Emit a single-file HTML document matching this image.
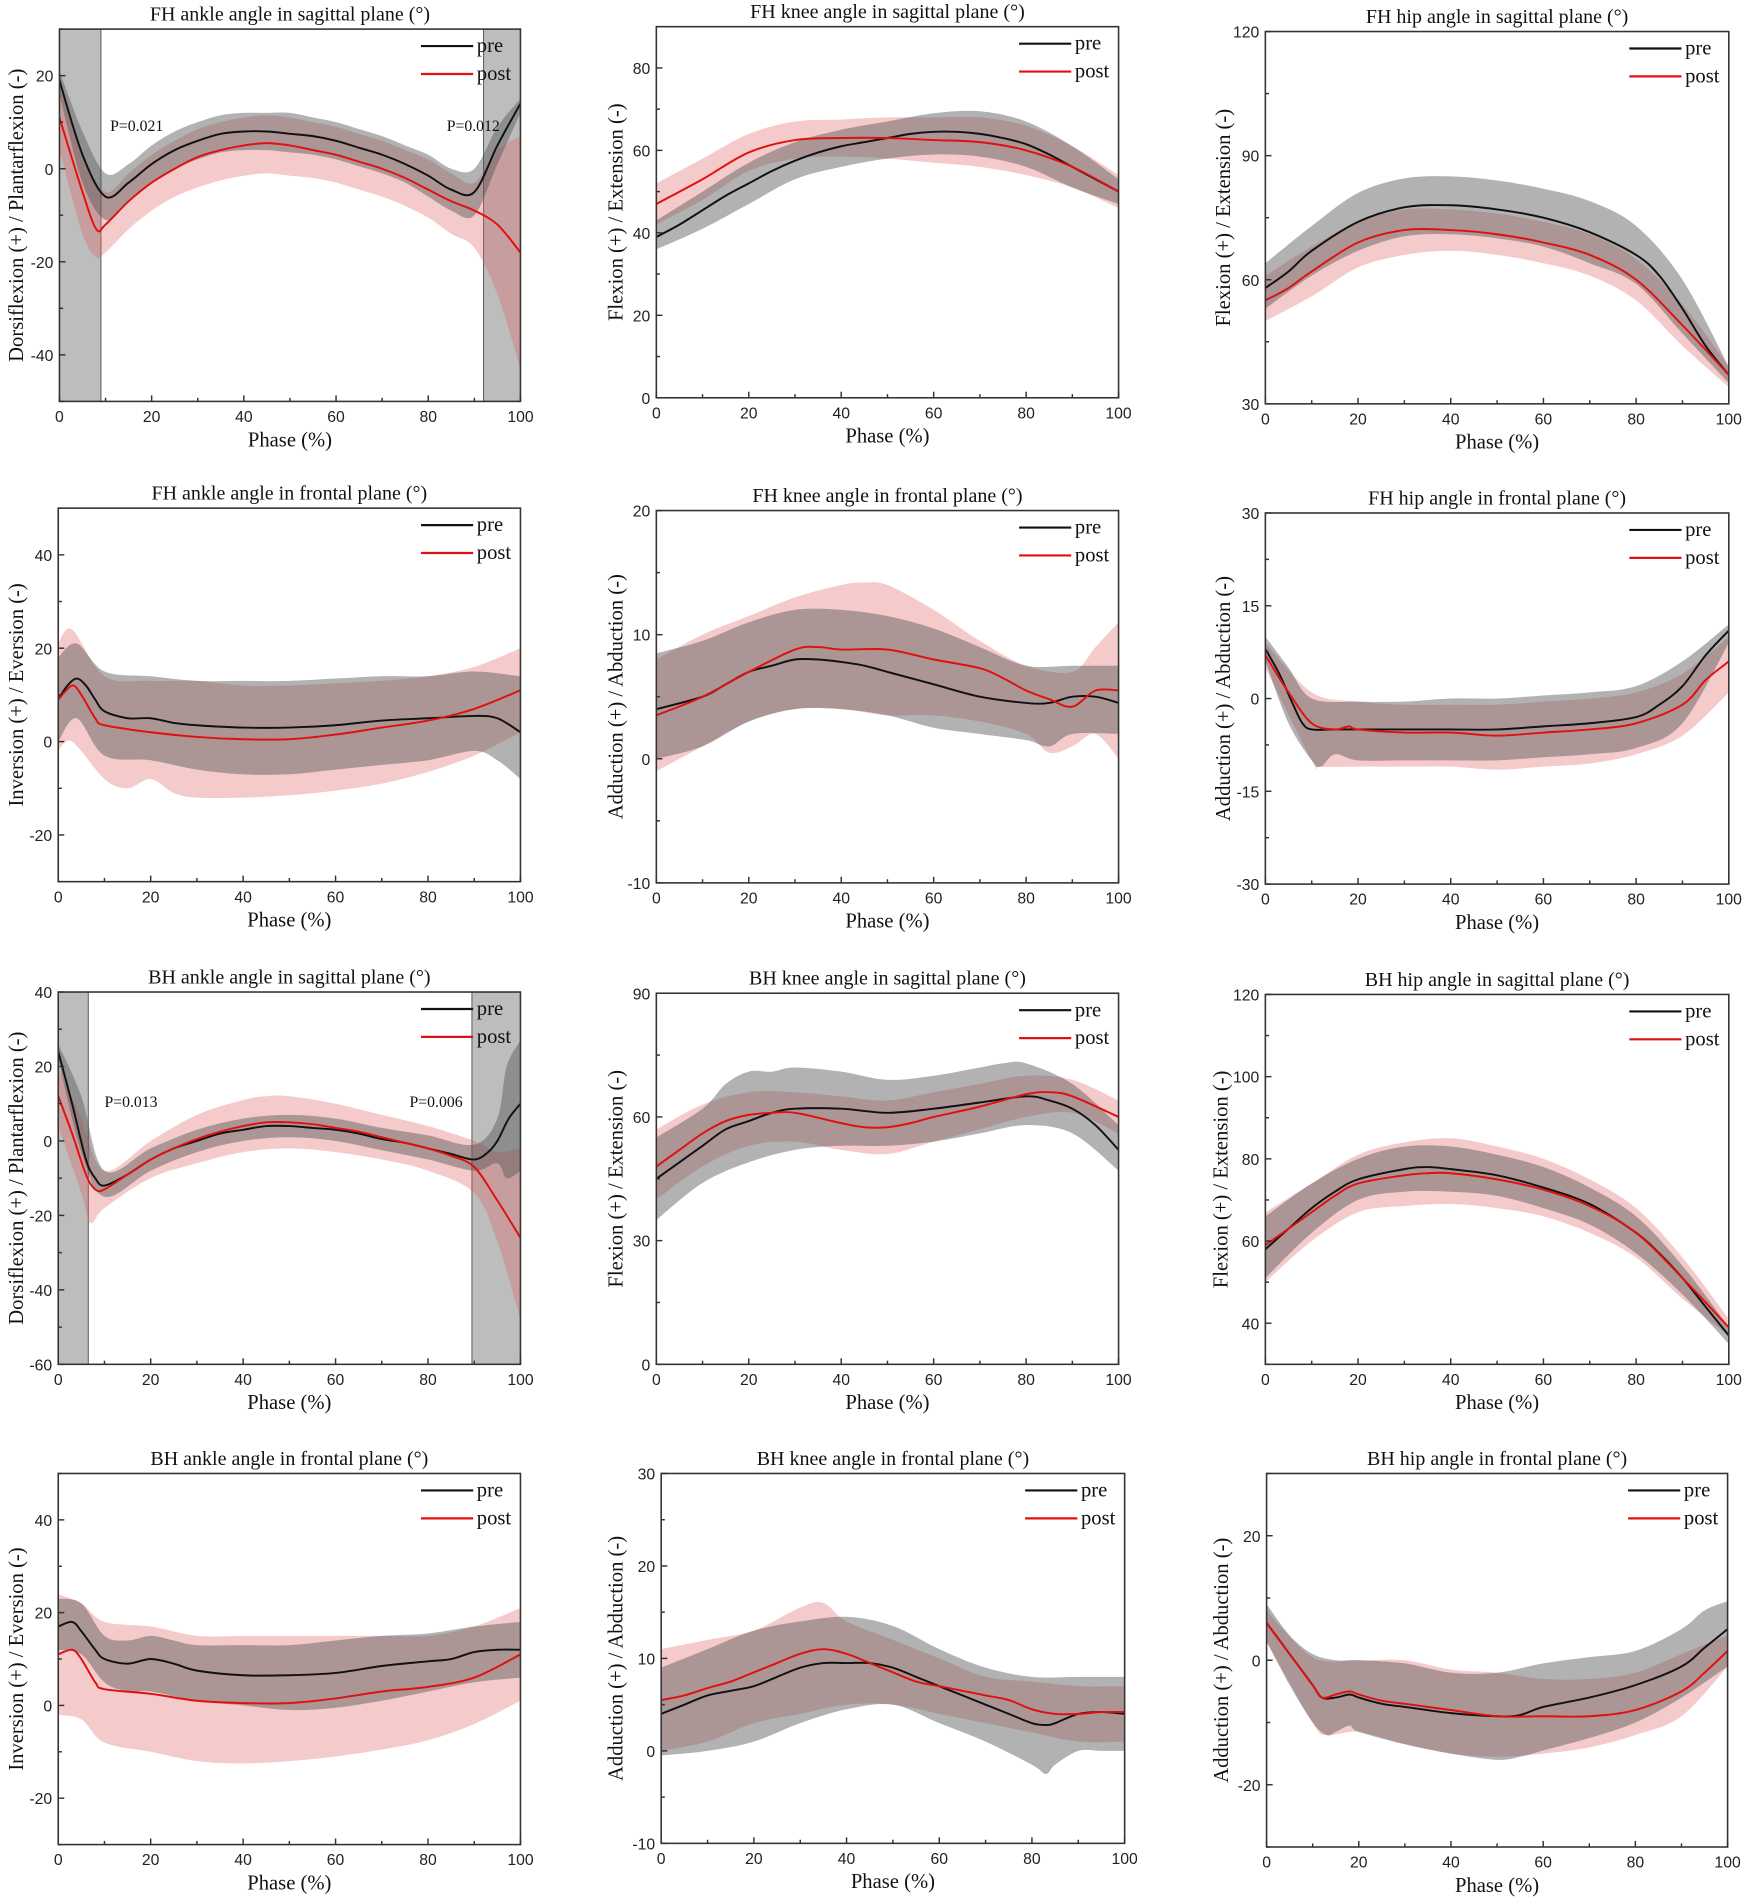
<!DOCTYPE html>
<html><head><meta charset="utf-8">
<style>
html,body{margin:0;padding:0;background:#fff;}
svg{display:block;}
.t{font-family:"Liberation Serif",serif;}
.n{font-family:"Liberation Sans",sans-serif;}
</style></head>
<body>
<svg id="fig" width="1747" height="1904" viewBox="0 0 1440 1570" preserveAspectRatio="none" xmlns="http://www.w3.org/2000/svg"></svg>
<script>
const xTicks=[0,20,40,60,80,100];
// Panel 1 FH ankle sagittal
const p1PreMean=[[0,19],[5,3],[10,-6],[15,-3],[20,1],[25,4],[30,6],[35,7.5],[40,8],[45,8],[50,7.5],[55,7],[60,6],[65,4.5],[70,3],[75,1],[80,-1.5],[85,-4.5],[90,-5],[95,5],[100,14]];
const p1PreHi=[[0,21],[5,8],[10,-1],[15,1],[20,5],[25,8],[30,10],[35,11.5],[40,12],[45,12],[50,12],[55,11],[60,10],[65,8.5],[70,7],[75,5],[80,3],[85,0],[90,0],[95,9],[100,15]];
const p1PreLo=[[0,16],[5,-3],[10,-11],[15,-7],[20,-3],[25,0],[30,2],[35,3.5],[40,4],[45,4],[50,3.5],[55,3],[60,2],[65,0.5],[70,-1],[75,-3],[80,-6],[85,-9],[90,-10],[95,1],[100,12]];
const p1PostMean=[[0,11],[5,-5],[8,-13],[10,-12],[15,-7],[20,-3],[25,0],[30,2.5],[35,4],[40,5],[45,5.5],[50,5],[55,4],[60,3],[65,1.5],[70,0],[75,-2],[80,-4.5],[85,-7],[90,-9],[95,-12],[100,-18]];
const p1PostHi=[[0,18],[5,3],[10,-5],[15,-1],[20,3],[25,6],[30,8.5],[35,10],[40,11],[45,11.5],[50,11],[55,10],[60,9],[65,7.5],[70,6],[75,4],[80,2],[85,-1],[90,-3],[95,4],[100,7]];
const p1PostLo=[[0,4],[5,-14],[8,-19],[10,-18],[15,-13],[20,-9],[25,-6],[30,-4],[35,-2.5],[40,-1.5],[45,-1],[50,-1.5],[55,-2],[60,-3],[65,-4.5],[70,-6],[75,-8],[80,-10.5],[85,-14],[90,-17],[95,-27],[100,-43]];
const p1YTicks=[-40,-20,0,20];
// Panel 2 FH knee sagittal
const p2PreMean=[[0,39],[5,42],[10,45.5],[15,49],[20,52],[25,55],[30,57.5],[35,59.5],[40,61],[45,62],[50,63],[55,64],[60,64.5],[65,64.5],[70,64],[75,63],[80,61.5],[85,59],[90,56],[95,53],[100,50]];
const p2PreHi=[[0,43],[10,50],[20,57],[30,62],[40,65],[50,67],[60,69],[70,69.5],[80,67],[90,61],[100,53]];
const p2PreLo=[[0,36],[10,41],[20,47],[30,53],[40,56],[50,58],[60,59],[70,58.5],[80,56],[90,51],[100,47]];
const p2PostMean=[[0,47],[10,53],[20,59.5],[30,62.5],[40,63],[50,63],[60,62.5],[70,62],[80,60],[90,56],[100,50]];
const p2PostHi=[[0,52],[10,58],[20,64],[30,67],[40,67.5],[50,68],[60,68],[70,68],[80,66],[90,61],[100,54]];
const p2PostLo=[[0,42],[10,48],[20,55],[30,58],[40,58.5],[50,58],[60,57],[70,56],[80,54],[90,51],[100,46]];
const p2YTicks=[0,20,40,60,80];
// Panel 3 FH hip sagittal
const p3PreMean=[[0,58],[5,62],[10,67],[20,74],[30,77.5],[40,78],[50,77],[60,75],[70,71.5],[80,66],[85,61],[90,53],[95,44],[100,37]];
const p3PreHi=[[0,64],[10,73],[20,81],[30,84.5],[40,85],[50,84],[60,82],[70,79],[80,73],[90,60],[100,39]];
const p3PreLo=[[0,53],[10,61],[20,67],[30,70.5],[40,71],[50,70],[60,68],[70,64],[80,59],[90,47],[100,35]];
const p3PostMean=[[0,55],[5,58],[10,62],[20,69],[30,72],[40,72],[50,71],[60,69],[70,66],[80,60],[90,49],[100,37]];
const p3PostHi=[[0,61],[10,68],[20,74],[30,77],[40,77],[50,76],[60,74],[70,71],[80,65],[90,54],[100,39]];
const p3PostLo=[[0,50],[10,56],[20,63],[30,66],[40,67],[50,66],[60,64],[70,61],[80,55],[90,44],[100,34]];
const p3YTicks=[30,60,90,120];
// Panel 4 FH ankle frontal
const p4PreMean=[[0,9],[2,12],[4,13.5],[6,12],[8,9],[10,6.5],[15,5],[20,5],[25,4],[30,3.5],[40,3],[50,3],[60,3.5],[70,4.5],[80,5],[90,5.5],[95,5],[100,2]];
const p4PreHi=[[0,18],[4,21],[10,15],[20,14],[30,13],[40,13],[50,13],[60,13.5],[70,14],[80,14],[90,15],[100,14]];
const p4PreLo=[[0,0],[4,5],[10,-3],[20,-4],[30,-6],[40,-7],[50,-7],[60,-6],[70,-5],[80,-4],[90,-2],[95,-4],[100,-8]];
const p4PostMean=[[0,9],[3,12],[5,10],[8,5],[10,3.5],[20,2],[30,1],[40,0.5],[50,0.5],[60,1.5],[70,3],[80,4.5],[90,7],[100,11]];
const p4PostHi=[[0,21],[3,24],[10,14],[20,13],[30,13],[40,12],[50,12],[60,12.5],[70,13],[80,14],[90,16],[100,20]];
const p4PostLo=[[0,-2],[3,0],[10,-8],[15,-10],[20,-8],[25,-11],[30,-12],[40,-12],[50,-11.5],[60,-10.5],[70,-9],[80,-6.5],[90,-3],[100,2]];
const p4YTicks=[-20,0,20,40];
// Panel 5 FH knee frontal
const p5PreMean=[[0,4],[10,5],[15,6],[20,7],[25,7.5],[30,8],[35,8],[40,7.8],[45,7.5],[50,7],[60,6],[70,5],[80,4.5],[85,4.5],[90,5],[95,5],[100,4.5]];
const p5PreHi=[[0,8.5],[10,9.5],[20,11],[30,12],[40,12],[50,11.5],[60,10.5],[70,9],[80,7.5],[90,7.5],[100,7.5]];
const p5PreLo=[[0,0],[10,1],[20,3],[30,4],[40,4],[50,3.5],[60,2.5],[70,2],[80,1.5],[85,1],[90,2],[100,2]];
const p5PostMean=[[0,3.5],[10,5],[20,7],[30,8.8],[35,9],[40,8.8],[50,8.8],[60,8],[70,7.3],[75,6.5],[80,5.5],[85,4.8],[90,4.2],[95,5.5],[100,5.5]];
const p5PostHi=[[0,8],[10,10],[20,11.5],[30,13],[40,14],[45,14.2],[50,14],[60,12],[70,9.5],[80,7.5],[90,7],[95,9],[100,11]];
const p5PostLo=[[0,-1],[10,1],[20,3],[30,4],[40,4],[50,3.5],[60,3.5],[70,3],[80,2],[85,0.5],[90,1],[95,2],[100,0]];
const p5YTicks=[-10,0,10,20];
// Panel 6 FH hip frontal
const p6PreMean=[[0,8],[3,4],[6,-1],[8,-4],[10,-5],[15,-5],[20,-5],[30,-5],[40,-5],[50,-5],[60,-4.5],[70,-4],[80,-3],[85,-1],[90,2],[95,7],[100,11]];
const p6PreHi=[[0,10],[5,5],[10,0],[20,-0.5],[30,-0.5],[40,0],[50,0],[60,0.5],[70,1],[80,2],[90,6],[100,12]];
const p6PreLo=[[0,6],[5,-4],[10,-10],[12,-11],[15,-9],[20,-10],[30,-10],[40,-10],[50,-10],[60,-9.5],[70,-9],[80,-8],[90,-4],[100,9]];
const p6PostMean=[[0,7],[5,1],[10,-4],[15,-5],[18,-4.5],[20,-5],[30,-5.5],[40,-5.5],[50,-6],[60,-5.5],[70,-5],[80,-4],[90,-1],[95,3],[100,6]];
const p6PostHi=[[0,9],[10,1],[20,-0.5],[30,-1],[40,-1],[50,-1],[60,-0.5],[70,0],[80,1],[90,4],[100,10]];
const p6PostLo=[[0,5],[10,-10],[12,-11],[20,-11],[30,-11],[40,-11],[50,-11.5],[60,-11],[70,-10.5],[80,-9],[90,-6],[100,1]];
const p6YTicks=[-30,-15,0,15,30];
// Panel 7 BH ankle sagittal
const p7PreMean=[[0,24],[3,10],[6,-5],[8,-10],[10,-12],[15,-9],[20,-5],[25,-2],[30,0],[35,2],[40,3],[45,4],[50,4],[55,3.5],[60,3],[65,2],[70,0.5],[75,-0.5],[80,-2],[85,-3.5],[90,-5],[93,-3],[95,0],[97,5],[98,7],[100,10]];
const p7PreHi=[[0,26],[5,12],[10,-8],[20,-2],[30,3],[40,6],[50,7],[60,6],[70,3.5],[80,1.5],[90,-1],[95,6],[97,20],[100,27]];
const p7PreLo=[[0,22],[5,-3],[10,-15],[20,-8],[30,-3],[40,0],[50,1],[60,0],[70,-2.5],[80,-5],[90,-8],[95,-6],[97,-10],[100,-8]];
const p7PostMean=[[0,12],[3,2],[6,-9],[8,-13],[10,-13],[15,-9],[20,-5],[25,-2],[30,0.5],[35,2.5],[40,4],[45,5],[50,5],[55,4.5],[60,3.5],[65,2.5],[70,1],[75,-0.5],[80,-2],[85,-4],[90,-7],[95,-16],[100,-26]];
const p7PostHi=[[0,20],[5,6],[10,-8],[20,0],[30,7],[40,11],[45,12],[50,12],[60,10],[70,7],[80,4],[90,0],[95,-3],[100,-2]];
const p7PostLo=[[0,4],[5,-14],[7,-22],[10,-18],[20,-10],[30,-6],[40,-3],[50,-2],[60,-3],[70,-5],[80,-8],[90,-14],[95,-27],[100,-48]];
const p7YTicks=[-60,-40,-20,0,20,40];
// Panel 8 BH knee sagittal
const p8PreMean=[[0,45],[5,49],[10,53],[15,57],[20,59],[25,61],[30,62],[40,62],[50,61],[60,62],[70,63.5],[80,65],[85,64],[90,62],[95,58],[100,52]];
const p8PreHi=[[0,55],[10,62],[15,68],[20,71],[25,71],[30,72],[40,71],[50,69],[60,70],[70,72],[75,73],[80,73],[90,68],[100,58]];
const p8PreLo=[[0,35],[10,44],[20,49],[30,52],[40,53],[50,53],[60,54],[70,56],[80,58],[90,56],[100,47]];
const p8PostMean=[[0,48],[5,52],[10,56],[15,59],[20,60.5],[25,61],[30,61],[40,58.5],[45,57.5],[50,57.5],[55,58.5],[60,60],[70,62.5],[80,65.5],[85,66],[90,65],[100,60]];
const p8PostHi=[[0,57],[10,63],[20,66],[30,66],[40,65],[50,64],[60,66],[70,68],[80,70],[90,69],[100,64]];
const p8PostLo=[[0,40],[10,48],[20,53],[30,54],[40,52],[50,51],[60,54],[70,57],[80,60],[90,61],[100,56]];
const p8YTicks=[0,30,60,90];
// Panel 9 BH hip sagittal
const p9PreMean=[[0,58],[5,63],[10,68],[15,72],[20,75],[30,77.5],[35,78],[40,77.5],[50,76],[60,73],[70,69],[80,62],[85,57],[90,51],[95,44],[100,37]];
const p9PreHi=[[0,66],[10,74],[20,80],[30,83],[40,83],[50,81],[60,78],[70,73],[80,66],[90,54],[100,39]];
const p9PreLo=[[0,51],[10,62],[20,70],[30,72],[40,72],[50,71],[60,68],[70,64],[80,57],[90,47],[100,35]];
const p9PostMean=[[0,59],[5,63],[10,67],[15,71],[20,74],[30,76],[35,76.5],[40,76.5],[50,75],[60,72.5],[70,68.5],[80,62],[90,51],[100,39]];
const p9PostHi=[[0,67],[10,74],[20,81],[30,84],[40,85],[50,83],[60,80],[70,75],[80,68],[90,56],[100,41]];
const p9PostLo=[[0,50],[10,60],[20,67],[30,68.5],[40,69],[50,68],[60,66],[70,62],[80,56],[90,46],[100,37]];
const p9YTicks=[40,60,80,100,120];
// Panel 10 BH ankle frontal
const p10PreMean=[[0,17],[3,18],[5,16],[8,12],[10,10],[15,9],[20,10],[25,9],[30,7.5],[40,6.5],[50,6.5],[60,7],[70,8.5],[80,9.5],[85,10],[90,11.5],[95,12],[100,12]];
const p10PreHi=[[0,23],[5,22],[10,15],[15,14],[20,15],[25,14],[30,13],[40,13],[50,13],[60,14],[70,15],[80,15.5],[90,17],[100,18]];
const p10PreLo=[[0,12],[5,11],[10,5],[15,3],[20,3],[30,1],[40,0],[50,-1],[60,-0.5],[70,1],[80,3],[90,5],[100,6]];
const p10PostMean=[[0,11],[3,12],[5,10],[8,5],[10,3.5],[20,2.5],[30,1],[40,0.5],[50,0.5],[60,1.5],[70,3],[80,4],[90,6],[100,11]];
const p10PostHi=[[0,24],[5,22],[10,18],[20,17],[30,15],[40,15],[50,15],[60,15],[70,15],[80,15],[90,17],[100,21]];
const p10PostLo=[[0,-2],[5,-3],[10,-8],[20,-10],[30,-12],[40,-12.5],[50,-12],[60,-11],[70,-9.5],[80,-7.5],[90,-4],[100,1]];
const p10YTicks=[-20,0,20,40];
// Panel 11 BH knee frontal
const p11PreMean=[[0,4],[5,5],[10,6],[15,6.5],[20,7],[25,8],[30,9],[35,9.5],[40,9.5],[45,9.5],[50,9],[55,8],[60,7],[65,6],[70,5],[75,4],[80,3],[83,2.8],[85,3],[90,4],[95,4.2],[100,4]];
const p11PreHi=[[0,9],[10,11],[20,13],[30,14],[40,14.5],[50,13.5],[60,11],[70,9],[80,8],[90,8],[100,8]];
const p11PreLo=[[0,-0.5],[10,0],[20,1],[30,3],[40,4.5],[50,5],[60,3],[70,1],[80,-1.5],[83,-2.5],[85,-1.5],[90,0],[95,0],[100,0]];
const p11PostMean=[[0,5.5],[5,6],[10,6.8],[15,7.5],[20,8.5],[25,9.5],[30,10.5],[35,11],[40,10.5],[45,9.5],[50,8.5],[55,7.5],[60,7],[65,6.5],[70,6],[75,5.5],[80,4.5],[85,4],[90,4],[95,4.2],[100,4.2]];
const p11PostHi=[[0,11],[10,12],[20,13],[30,15.5],[35,16],[40,14],[50,12],[60,10],[70,8],[80,7.5],[90,7],[100,7]];
const p11PostLo=[[0,0],[10,1],[20,3],[30,4],[40,5],[50,5],[60,4],[70,3],[80,2],[90,1],[100,1]];
const p11YTicks=[-10,0,10,20,30];
// Panel 12 BH hip frontal
const p12PreMean=[[0,6],[5,1],[10,-4],[12,-6],[15,-6],[18,-5.5],[20,-6],[25,-7],[30,-7.5],[40,-8.5],[50,-9],[55,-8.8],[60,-7.5],[70,-6],[80,-4],[90,-1],[95,2],[100,5]];
const p12PreHi=[[0,9],[5,4],[10,1],[15,0],[20,0],[30,-0.5],[40,-2],[50,-2],[60,-0.5],[70,0.5],[80,1.5],[90,5],[95,8],[100,9.5]];
const p12PreLo=[[0,3],[5,-4],[10,-10],[13,-12],[15,-11.5],[18,-10.5],[20,-11.5],[30,-13.5],[40,-15],[50,-16],[55,-15.5],[60,-14.5],[70,-12.5],[80,-10],[90,-6],[100,-1]];
const p12PostMean=[[0,6],[5,1],[10,-4],[12,-6],[15,-5.5],[18,-5],[20,-5.5],[25,-6.5],[30,-7],[40,-8],[50,-9],[60,-9],[70,-9],[80,-8],[90,-5],[95,-2],[100,1.5]];
const p12PostHi=[[0,8],[10,0.5],[20,0],[30,0],[40,-1.5],[50,-2],[60,-3],[70,-3],[80,-2],[90,1],[100,4]];
const p12PostLo=[[0,3],[10,-10],[13,-12],[20,-11.5],[30,-13.5],[40,-15],[50,-15.5],[60,-15],[70,-14],[80,-12],[90,-9],[100,-1]];
const p12YTicks=[-20,0,20];

const SIG="Dorsiflexion (+) / Plantarflexion (-)", FLX="Flexion (+) / Extension (-)", INV="Inversion (+) / Eversion (-)", ADD="Adduction (+) / Abduction (-)";
const panels=[
 {t:"FH ankle angle in sagittal plane (°)",yl:SIG,b:[49,429,24,331],r:[-50,30],yt:p1YTicks,d:[p1PreMean,p1PreHi,p1PreLo,p1PostMean,p1PostHi,p1PostLo],sh:[[0,9],[92,100]],pv:[["P=0.021",11],["P=0.012",84]],ylx:13,pvy:84},
 {t:"FH knee angle in sagittal plane (°)",yl:FLX,b:[541,922,22,328],r:[0,90],yt:p2YTicks,d:[p2PreMean,p2PreHi,p2PreLo,p2PostMean,p2PostHi,p2PostLo],ylx:507},
 {t:"FH hip angle in sagittal plane (°)",yl:FLX,b:[1043,1425,26,333],r:[30,120],yt:p3YTicks,d:[p3PreMean,p3PreHi,p3PreLo,p3PostMean,p3PostHi,p3PostLo],ylx:1008},
 {t:"FH ankle angle in frontal plane (°)",yl:INV,b:[48,429,419,727],r:[-30,50],yt:p4YTicks,d:[p4PreMean,p4PreHi,p4PreLo,p4PostMean,p4PostHi,p4PostLo],ylx:13},
 {t:"FH knee angle in frontal plane (°)",yl:ADD,b:[541,922,421,728],r:[-10,20],yt:p5YTicks,d:[p5PreMean,p5PreHi,p5PreLo,p5PostMean,p5PostHi,p5PostLo],ylx:507},
 {t:"FH hip angle in frontal plane (°)",yl:ADD,b:[1043,1425,423,729],r:[-30,30],yt:p6YTicks,d:[p6PreMean,p6PreHi,p6PreLo,p6PostMean,p6PostHi,p6PostLo],ylx:1008},
 {t:"BH ankle angle in sagittal plane (°)",yl:SIG,b:[48,429,818,1125],r:[-60,40],yt:p7YTicks,d:[p7PreMean,p7PreHi,p7PreLo,p7PostMean,p7PostHi,p7PostLo],sh:[[0,6.5],[89.5,100]],pv:[["P=0.013",10],["P=0.006",76]],ylx:13,pvy:95},
 {t:"BH knee angle in sagittal plane (°)",yl:FLX,b:[541,922,819,1125],r:[0,90],yt:p8YTicks,d:[p8PreMean,p8PreHi,p8PreLo,p8PostMean,p8PostHi,p8PostLo],ylx:507},
 {t:"BH hip angle in sagittal plane (°)",yl:FLX,b:[1043,1425,820,1125],r:[30,120],yt:p9YTicks,d:[p9PreMean,p9PreHi,p9PreLo,p9PostMean,p9PostHi,p9PostLo],ylx:1006},
 {t:"BH ankle angle in frontal plane (°)",yl:"Inversion (+) /  Eversion (-)",b:[48,429,1215,1521],r:[-30,50],yt:p10YTicks,d:[p10PreMean,p10PreHi,p10PreLo,p10PostMean,p10PostHi,p10PostLo],ylx:13},
 {t:"BH knee angle in frontal plane (°)",yl:ADD,b:[545,927,1215,1520],r:[-10,30],yt:p11YTicks,d:[p11PreMean,p11PreHi,p11PreLo,p11PostMean,p11PostHi,p11PostLo],ylx:507},
 {t:"BH hip angle in frontal plane (°)",yl:ADD,b:[1044,1424,1215,1523],r:[-30,30],yt:p12YTicks,d:[p12PreMean,p12PreHi,p12PreLo,p12PostMean,p12PostHi,p12PostLo],ylx:1006}
];
const NS="http://www.w3.org/2000/svg";
const svg=document.getElementById('fig');
function mk(tag,attrs,parent){const e=document.createElementNS(NS,tag);for(const k in attrs)e.setAttribute(k,attrs[k]);(parent||svg).appendChild(e);return e;}
function crPath(pts,move){
 let s=move?`M${pts[0][0].toFixed(2)},${pts[0][1].toFixed(2)}`:`L${pts[0][0].toFixed(2)},${pts[0][1].toFixed(2)}`;
 for(let i=0;i<pts.length-1;i++){
  const p0=pts[Math.max(0,i-1)],p1=pts[i],p2=pts[i+1],p3=pts[Math.min(pts.length-1,i+2)];
  const c1=[p1[0]+(p2[0]-p0[0])/6,p1[1]+(p2[1]-p0[1])/6],c2=[p2[0]-(p3[0]-p1[0])/6,p2[1]-(p3[1]-p1[1])/6];
  s+=`C${c1[0].toFixed(2)},${c1[1].toFixed(2)} ${c2[0].toFixed(2)},${c2[1].toFixed(2)} ${p2[0].toFixed(2)},${p2[1].toFixed(2)}`;
 }
 return s;
}
panels.forEach((P,idx)=>{
 const [x0,x1,y0,y1]=P.b,[lo,hi]=P.r;
 const sx=v=>x0+(x1-x0)*v/100, sy=v=>y1-(y1-y0)*(v-lo)/(hi-lo);
 const g=mk('g',{});
 
 
 const cid='clip'+idx;
 const cp=mk('clipPath',{id:cid},g);mk('rect',{x:x0,y:y0,width:x1-x0,height:y1-y0},cp);
 const plot=mk('g',{'clip-path':`url(#${cid})`},g);
 (P.sh||[]).forEach(s=>{
  const r=mk('rect',{x:sx(s[0]),y:y0,width:sx(s[1])-sx(s[0]),height:y1-y0,fill:'#bdbdbd',stroke:'#555','stroke-width':0.8},plot);
  
  
 });
 const tr=a=>a.map(p=>[sx(p[0]),sy(p[1])]);
 const band=(h,l,fill,name)=>{const e=mk('path',{d:crPath(tr(h),true)+crPath(tr(l).reverse(),false)+'Z',fill:fill},plot);};
 band(P.d[4],P.d[5],'rgba(225,95,95,0.33)','post-sd-band');
 band(P.d[1],P.d[2],'rgba(85,85,85,0.45)','pre-sd-band');
 const l1=mk('path',{d:crPath(tr(P.d[0]),true),fill:'none',stroke:'#111','stroke-width':1.6},plot);
 
 const l2=mk('path',{d:crPath(tr(P.d[3]),true),fill:'none',stroke:'#e01010','stroke-width':1.6},plot);
 
 const fr=mk('rect',{x:x0,y:y0,width:x1-x0,height:y1-y0,fill:'none',stroke:'#333','stroke-width':1.3},g);
 
 for(let v=0;v<=100;v+=10){const X=sx(v);mk('line',{x1:X,x2:X,y1:y1,y2:y1-(v%20==0?5:3),stroke:'#333','stroke-width':1.2},g);}
 xTicks.forEach(v=>{const t=mk('text',{x:sx(v),y:y1+17,'text-anchor':'middle','font-size':13,class:'n',fill:'#222'},g);t.textContent=v;});
 const step=P.yt.length>1?P.yt[1]-P.yt[0]:10;
 for(let v=lo;v<=hi+1e-9;v+=step/2){const Y=sy(v);const maj=P.yt.some(t=>Math.abs(t-v)<1e-6);mk('line',{x1:x0,x2:x0+(maj?5:3),y1:Y,y2:Y,stroke:'#333','stroke-width':1.2},g);}
 P.yt.forEach(v=>{const t=mk('text',{x:x0-5,y:sy(v)+5,'text-anchor':'end','font-size':13,class:'n',fill:'#222'},g);t.textContent=v;});
 const ti=mk('text',{x:(x0+x1)/2,y:y0-7,'text-anchor':'middle','font-size':16.5,class:'t',fill:'#111'},g);ti.textContent=P.t;
 
 const xl=mk('text',{x:(x0+x1)/2,y:y1+37,'text-anchor':'middle','font-size':17,class:'t',fill:'#111'},g);xl.textContent='Phase (%)';
 
 const yc=(y0+y1)/2;
 const yl=mk('text',{x:P.ylx,y:yc,'text-anchor':'middle','font-size':17,class:'t',fill:'#111',transform:`rotate(-90 ${P.ylx} ${yc})`,dy:6},g);yl.textContent=P.yl;
 
 const lx=x1-82;
 [['pre','#111',14],['post','#e01010',37]].forEach(([n,c,dy])=>{
  const lg=mk('g',{},g);
  mk('line',{x1:lx,x2:lx+43,y1:y0+dy,y2:y0+dy,stroke:c,'stroke-width':1.8},lg);
  const t=mk('text',{x:lx+46,y:y0+dy+5,'font-size':17,class:'t',fill:'#111'},lg);t.textContent=n;
 });
 (P.pv||[]).forEach(([s,v])=>{const t=mk('text',{x:sx(v),y:y0+P.pvy,'font-size':13,class:'t',fill:'#111'},g);t.textContent=s;});
});
</script>
</body></html>
